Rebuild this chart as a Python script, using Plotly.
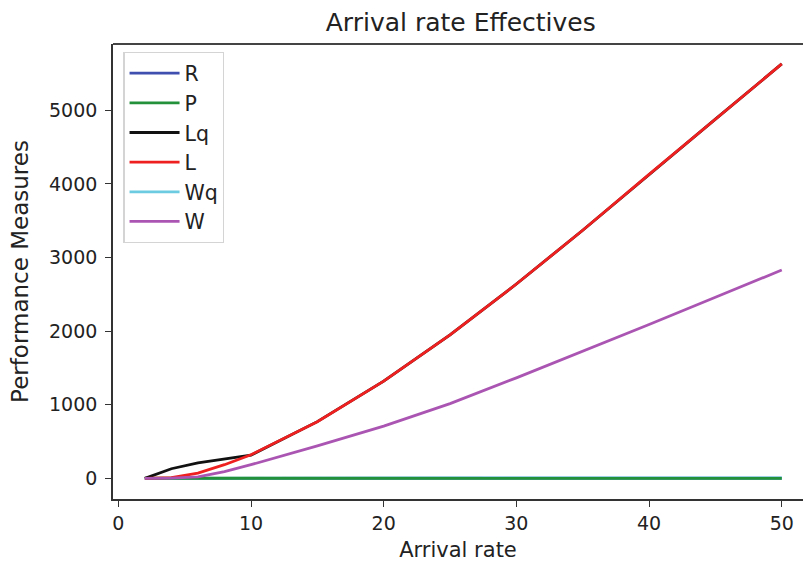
import plotly.graph_objects as go

arrival_rate = [2, 4, 6, 8, 10, 15, 20, 25, 30, 35, 40, 45, 50]
R = [0.2, 0.4, 0.6, 0.7, 0.8, 0.9, 0.95, 0.96, 0.97, 0.98, 0.98, 0.99, 0.99]
P = [0.8, 0.6, 0.4, 0.3, 0.2, 0.1, 0.05, 0.04, 0.03, 0.02, 0.02, 0.01, 0.01]
Lq = [0, 130, 210, 265, 315, 770, 1320, 1950, 2640, 3370, 4130, 4880, 5630]
L = [0, 10, 72, 185, 320, 770, 1320, 1950, 2640, 3370, 4130, 4880, 5630]
Wq = [0, 1, 2, 2, 3, 3, 4, 4, 4, 4, 4, 4, 4]
W = [0, 3, 20, 90, 185, 440, 710, 1015, 1365, 1725, 2090, 2460, 2830]

series = [
    ("R", R, "#3f4fb0", 1),
    ("Wq", Wq, "#6ccbe0", 5),
    ("P", P, "#23903a", 2),
    ("Lq", Lq, "#111111", 3),
    ("L", L, "#ee2020", 4),
    ("W", W, "#ab55b3", 6),
]

fig = go.Figure()
for name, vals, color, rank in series:
    fig.add_trace(go.Scatter(
        x=arrival_rate, y=vals, mode="lines", name=name,
        line=dict(color=color, width=2.8), legendrank=rank,
    ))

font = "DejaVu Sans, Arial, sans-serif"
fig.update_layout(
    width=803, height=565,
    margin=dict(l=113, r=0, t=44, b=66),
    paper_bgcolor="white", plot_bgcolor="white",
    font=dict(family=font, size=19, color="#222"),
    title=dict(text="Arrival rate Effectives", x=0.504,
               xref="paper", xanchor="center", y=0.961, yref="container", yanchor="middle",
               font=dict(size=25, color="#222")),
    showlegend=True,
    legend=dict(x=0.015, y=0.982, xanchor="left", yanchor="top",
                bgcolor="white", bordercolor="#d4d4d4", borderwidth=1.2,
                font=dict(size=20.5, color="#222"), itemwidth=50,
                traceorder="normal", tracegroupgap=0),
    xaxis=dict(range=[-0.4, 51.6], tickvals=[0, 10, 20, 30, 40, 50],
               showgrid=False, zeroline=False, showline=True, linecolor="#333",
               linewidth=1.6, ticks="outside", ticklen=6, tickwidth=1.2, tickcolor="#333",
               title=dict(text="Arrival rate", font=dict(size=21), standoff=10)),
    yaxis=dict(range=[-281, 5901], tickvals=[0, 1000, 2000, 3000, 4000, 5000],
               showgrid=False, zeroline=False, showline=True, linecolor="#333",
               linewidth=1.6, ticks="outside", ticklen=6, tickwidth=1.2, tickcolor="#333",
               ticklabelstandoff=4,
               title=dict(text="Performance Measures", font=dict(size=23), standoff=14)),
    shapes=[dict(type="line", xref="paper", yref="paper", x0=0, x1=1, y0=1, y1=1,
                 line=dict(color="#444", width=2))],
)
fig.write_html("out.html")
